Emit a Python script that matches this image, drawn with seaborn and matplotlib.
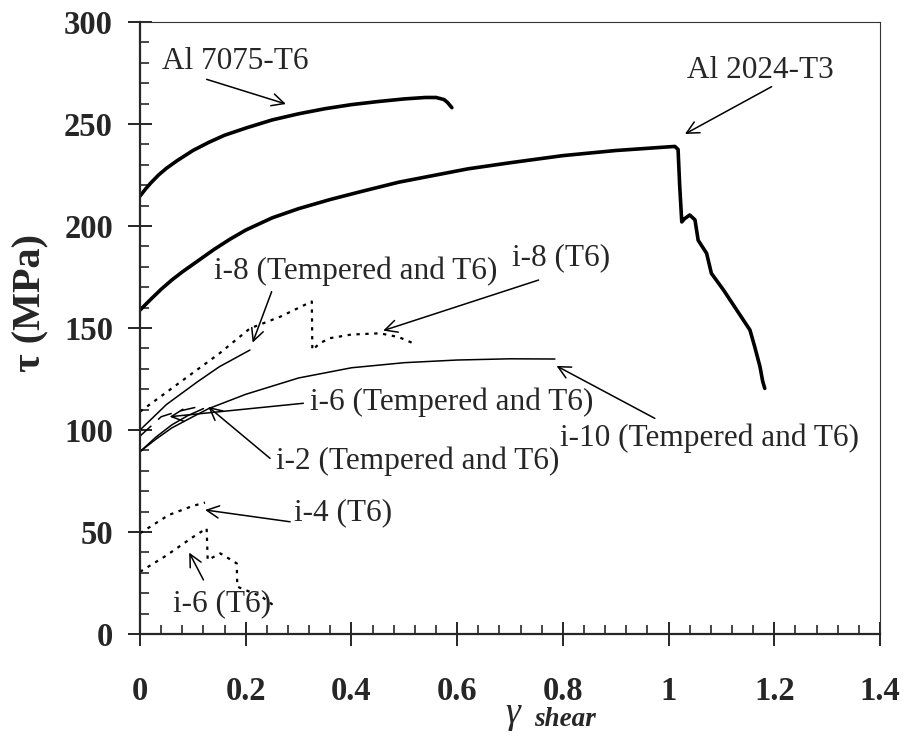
import numpy as np
import matplotlib
matplotlib.use('Agg')
import matplotlib.pyplot as plt
import seaborn as sns
from matplotlib.ticker import MultipleLocator

# curves (gamma_shear, tau in MPa)
al7075_x = [0, 0.01, 0.02, 0.035, 0.05, 0.07, 0.1, 0.13, 0.16, 0.2, 0.25, 0.3, 0.35, 0.4,
            0.45, 0.5, 0.54, 0.56, 0.575, 0.582, 0.59]
al7075_y = [214.7, 218, 221, 225, 228.3, 232, 237, 241, 244.5, 248, 252, 255, 257.5, 259.5,
            261, 262.3, 263, 263, 262, 260.5, 258]

al2024_x = [0, 0.02, 0.04, 0.06, 0.08, 0.11, 0.14, 0.17, 0.2, 0.25, 0.3, 0.36, 0.42, 0.49,
            0.55, 0.62, 0.7, 0.8, 0.9, 1.0, 1.012, 1.018, 1.021, 1.025, 1.03, 1.04, 1.05,
            1.056, 1.072, 1.081, 1.104, 1.129, 1.154, 1.163, 1.173, 1.178, 1.182]
al2024_y = [158.8, 164, 169, 173.5, 177.5, 183, 188.5, 193.5, 198, 204, 208.5, 213, 217, 221.5,
            224.5, 228, 231, 234.5, 237, 238.8, 239, 237.5, 220, 202, 203.5, 205.4, 203,
            193, 186.6, 176.8, 168.6, 158.8, 149, 140.8, 131, 124, 120.4]

i8_temp_x = [0, 0.05, 0.109, 0.15, 0.208]
i8_temp_y = [100, 112.5, 123.7, 131, 139.2]

i8_t6_x = [0, 0.05, 0.1, 0.15, 0.208, 0.265, 0.325, 0.326, 0.34, 0.359, 0.4, 0.454, 0.49, 0.517]
i8_t6_y = [109, 118.5, 128, 137.5, 149.8, 155.5, 163, 139.2, 142.5, 145, 146.8, 147.4, 145.5, 142.5]

i6_temp_x = [0, 0.04, 0.07, 0.11]
i6_temp_y = [97, 106.5, 109, 111.4]

i2_temp_x = [0, 0.03, 0.06, 0.09, 0.12]
i2_temp_y = [89.4, 96.5, 102.5, 107, 110.5]

i10_temp_x = [0, 0.03, 0.06, 0.1, 0.13, 0.2, 0.3, 0.4, 0.5, 0.6, 0.7, 0.785]
i10_temp_y = [89.4, 95.5, 101, 106.5, 110.5, 117.5, 125.5, 130.5, 133, 134.3, 134.9, 134.8]

i4_t6_x = [0, 0.054, 0.1, 0.123]
i4_t6_y = [49.4, 58.3, 62.8, 64.4]

i6_t6_x = [0, 0.05, 0.1, 0.126, 0.128, 0.152, 0.183, 0.184, 0.23, 0.256]
i6_t6_y = [30.5, 38.5, 47.5, 51.8, 36.3, 39.5, 34.6, 23.2, 18.3, 13.4]

# labels: text, text centre, arrow tail, arrow tip
labels = ['Al 7075-T6', 'Al 2024-T3', 'i-8 (Tempered and T6)', 'i-8 (T6)',
          'i-6 (Tempered and T6)', 'i-10 (Tempered and T6)', 'i-2 (Tempered and T6)',
          'i-4 (T6)', 'i-6 (T6)']
label_pos = [(0.18, 280.4), (1.173, 276), (0.4077, 177.7), (0.797, 184.3),
             (0.589, 113.7), (1.078, 96), (0.526, 84.8), (0.384, 59.3), (0.156, 15)]
arrow_from = [(0.126, 271.9), (1.195, 268.3), (0.249, 167.8), (0.754, 173.5),
              (0.309, 113.1), (0.974, 105.7), (0.246, 86.1), (0.284, 55), (0.12, 26.5)]
arrow_to = [(0.276, 259.8), (1.031, 245.1), (0.213, 142.8), (0.46, 148.7),
            (0.056, 106.5), (0.788, 131.4), (0.129, 111.4), (0.123, 60.8), (0.093, 39.9)]

sns.set_style('ticks')
plt.rcParams['font.family'] = ['Liberation Serif', 'DejaVu Serif']

fig = plt.figure(figsize=(9.07, 7.36), dpi=100)
ax = fig.add_axes([0.1544, 0.1386, 0.8158, 0.8315])

thick = dict(color='black', lw=2.6, sort=False, estimator=None)
thin = dict(color='black', lw=1.1, sort=False, estimator=None)
dots = dict(color='black', lw=1.6, sort=False, estimator=None, linestyle=(0, (1.5, 2.5)))

sns.lineplot(x=al7075_x, y=al7075_y, ax=ax, **thick)
sns.lineplot(x=al2024_x, y=al2024_y, ax=ax, **thick)
sns.lineplot(x=i8_temp_x, y=i8_temp_y, ax=ax, **thin)
sns.lineplot(x=i8_t6_x, y=i8_t6_y, ax=ax, **dots)
sns.lineplot(x=i6_temp_x, y=i6_temp_y, ax=ax, color='black', lw=1.1, sort=False,
             estimator=None, linestyle=(0, (10, 6)))
sns.lineplot(x=i2_temp_x, y=i2_temp_y, ax=ax, **thin)
sns.lineplot(x=i10_temp_x, y=i10_temp_y, ax=ax, **thin)
sns.lineplot(x=i4_t6_x, y=i4_t6_y, ax=ax, **dots)
sns.lineplot(x=i6_t6_x, y=i6_t6_y, ax=ax, **dots)

for txt, pos, a, b in zip(labels, label_pos, arrow_from, arrow_to):
    ax.text(pos[0], pos[1], txt, fontsize=22.5, ha='center', va='center')
    ax.annotate('', xy=b, xytext=a,
                arrowprops=dict(arrowstyle='->', lw=1.1, color='black',
                                shrinkA=0, shrinkB=0, mutation_scale=22))

ax.set_xlim(0, 1.4)
ax.set_ylim(0, 300)
ax.xaxis.set_major_locator(MultipleLocator(0.2))
ax.xaxis.set_minor_locator(MultipleLocator(0.04))
ax.yaxis.set_major_locator(MultipleLocator(50))
ax.yaxis.set_minor_locator(MultipleLocator(10))
ax.set_xticks(np.arange(0, 1.41, 0.2))
ax.set_xticklabels(['{:g}'.format(round(v, 1)) for v in np.arange(0, 1.41, 0.2)])

ax.tick_params(which='major', direction='inout', length=17, width=1.4,
               labelsize=23.5, top=False, right=False)
ax.tick_params(axis='x', which='major', pad=22)
ax.tick_params(axis='y', which='major', pad=11)
ax.tick_params(which='minor', direction='in', length=6.5, width=1.2, top=False, right=False)
for lab in ax.get_xticklabels() + ax.get_yticklabels():
    lab.set_fontweight('bold')

for s in ['left', 'bottom']:
    ax.spines[s].set_linewidth(1.6)
for s in ['top', 'right']:
    ax.spines[s].set_linewidth(0.8)
    ax.spines[s].set_color('#333333')

ax.set_ylabel('τ (MPa)', fontsize=29, fontweight='bold')
ax.yaxis.set_label_coords(-0.122, 0.541)
ax.set_xlabel('')
ax.text(0.503, -0.131, 'γ', transform=ax.transAxes, fontsize=27, style='italic',
        ha='center', va='center')
ax.text(0.574, -0.139, 'shear', transform=ax.transAxes, fontsize=19.5, style='italic',
        fontweight='bold', ha='center', va='center')

fig.savefig('out.png', dpi=100)
